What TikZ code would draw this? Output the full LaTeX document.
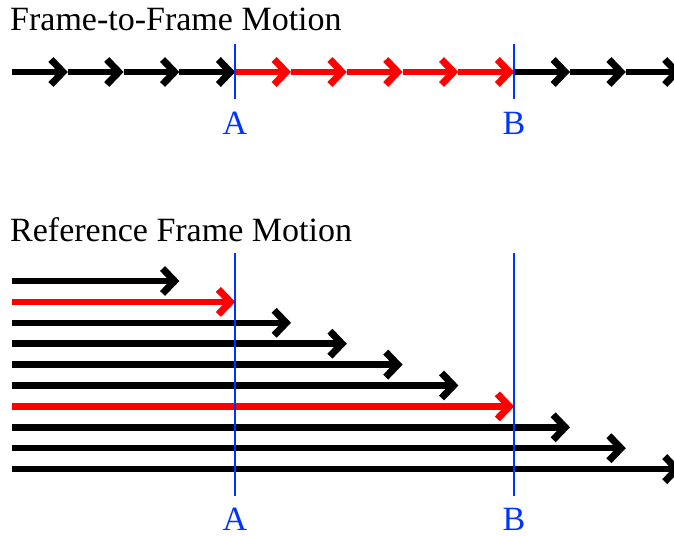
\documentclass[tikz,border=0pt]{standalone}
\usepackage{fontspec}
\setmainfont{Liberation Serif}
\usetikzlibrary{arrows.meta}
\definecolor{markblue}{RGB}{0,51,255}
\definecolor{pathred}{RGB}{255,0,0}
\begin{document}
\begin{tikzpicture}[
      x=1pt, y=-1pt,
      font=\fontsize{34}{38}\selectfont,
      motion/.style={line width=6.5pt, -{Straight Barb[length=12pt, width=25pt, line width=7pt]}},
      marker/.style={draw=markblue, line width=2.2pt},
      mark label/.style={text=markblue, anchor=base, inner sep=0pt},
      heading/.style={anchor=base west, inner sep=0pt}
    ]
      \useasboundingbox (0,0) rectangle (674,535);
      \clip (0,0) rectangle (674,535);
      \node[heading] (ftf) at (10,31) {Frame-to-Frame Motion};
      \node[heading] (rfm) at (10,241) {Reference Frame Motion};
      % frame-to-frame
      \foreach \i in {0,...,12}
        \coordinate (t\i) at ({12+55.8*\i},72);
      \foreach \i [evaluate=\i as \j using int(\i+1)] in {0,...,11} {
        \ifnum\i>3 \ifnum\i<9 \def\col{pathred}\else\def\col{black}\fi\else\def\col{black}\fi
        \draw[motion, \col] (t\i) -- (t\j);
      }
      \node[mark label] (topA) at (235,134) {A};
      \node[mark label] (topB) at (514,134) {B};
      \coordinate (topA0) at (235,44);
      \coordinate (topB0) at (514,44);
      \draw[marker] (topA0) -- (topA.north |- 0,99);
      \draw[marker] (topB0) -- (topB.north |- 0,99);
      % reference frame
      \foreach \k in {1,...,10} {
        \coordinate (s\k) at (12,{281+20.9*(\k-1)});
        \coordinate (e\k) at ({12+55.8*(\k+2)},{281+20.9*(\k-1)});
        \ifnum\k=2 \def\col{pathred}\else\ifnum\k=7 \def\col{pathred}\else\def\col{black}\fi\fi
        \draw[motion, \col] (s\k) -- (e\k);
      }
      \node[mark label] (botA) at (235,530) {A};
      \node[mark label] (botB) at (514,530) {B};
      \coordinate (botA0) at (235,253);
      \coordinate (botB0) at (514,253);
      \draw[marker] (botA0) -- (botA.north |- 0,496);
      \draw[marker] (botB0) -- (botB.north |- 0,496);
    \end{tikzpicture}
\end{document}
